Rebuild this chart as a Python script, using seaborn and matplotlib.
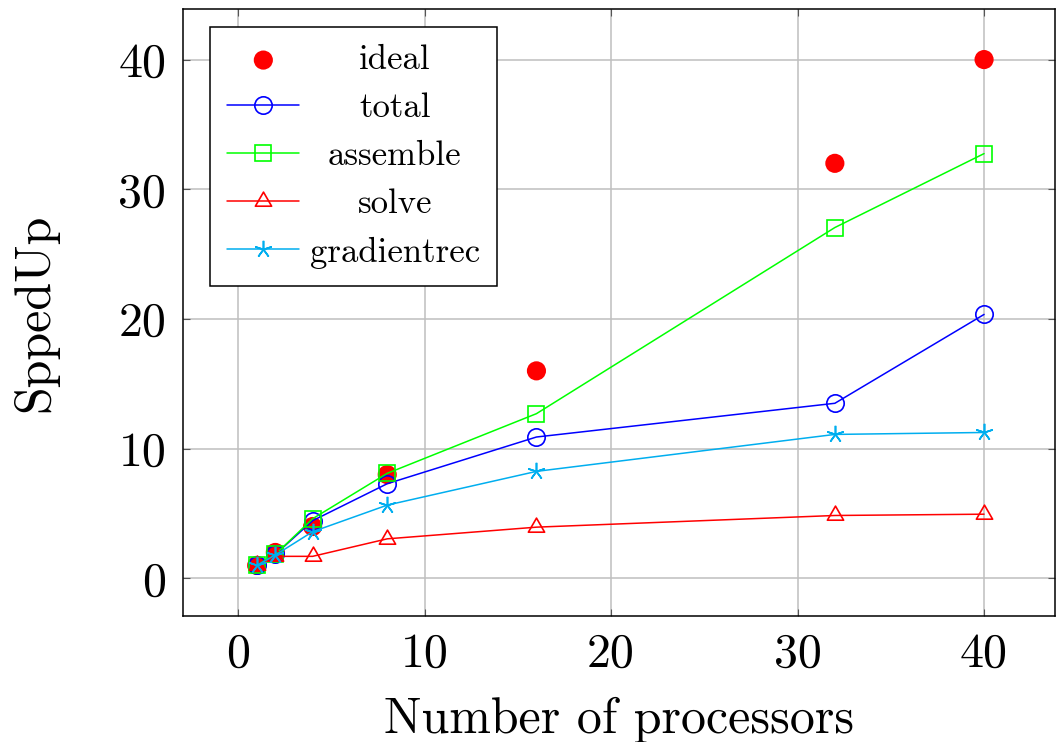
import matplotlib
matplotlib.use("Agg")
import matplotlib.pyplot as plt
import seaborn as sns
from matplotlib.path import Path

# Speed-up measurements per number of processors
processors = [1, 2, 4, 8, 16, 32, 40]
ideal = [1, 2, 4, 8, 16, 32, 40]
total = [1, 1.85, 4.45, 7.3, 10.9, 13.5, 20.35]
assemble = [1, 1.85, 4.6, 8.1, 12.7, 27.05, 32.75]
solve = [1, 1.7, 1.7, 3.05, 3.95, 4.85, 4.95]
gradientrec = [1, 1.8, 3.6, 5.65, 8.25, 11.1, 11.25]

x_ticks = [0, 10, 20, 30, 40]
y_ticks = [0, 10, 20, 30, 40]

sns.set_theme(style="whitegrid")
plt.rcParams["font.family"] = ["cmr10"]
plt.rcParams["mathtext.fontset"] = "cm"
plt.rcParams["axes.formatter.use_mathtext"] = True

fig = plt.figure(figsize=(10.56, 7.42), dpi=100)
ax = fig.add_axes([0.1733, 0.1698, 0.8257, 0.8181])

lw = 1.1
mew = 1.2
triangle = Path([(0, 1), (-0.866, -0.5), (0.866, -0.5), (0, 1)], closed=True)

sns.scatterplot(x=processors, y=ideal, color="#ff0000", s=190, edgecolor="none",
                linewidth=0, label="ideal", ax=ax, zorder=3)

series = [
    ("total", total, "#0000ff", "o", 12.5),
    ("assemble", assemble, "#00ff00", "s", 12.0),
    ("solve", solve, "#ff0000", triangle, 13.5),
    ("gradientrec", gradientrec, "#00aeef", (5, 2, 0), 12.5),
]
for name, vals, col, mk, ms in series:
    sns.lineplot(x=processors, y=vals, color=col, linewidth=lw, marker=mk,
                 markersize=ms, markerfacecolor="none", markeredgecolor=col,
                 markeredgewidth=mew, errorbar=None, label=name, ax=ax, zorder=3)

ax.set_xlim(-2.95, 43.8)
ax.set_ylim(-2.9, 43.9)
ax.set_xticks(x_ticks)
ax.set_yticks(y_ticks)
ax.set_xticklabels([str(t) for t in x_ticks])
ax.set_yticklabels([str(t) for t in y_ticks])

ax.grid(True, color="#bfbfbf", linewidth=1.1)
ax.set_axisbelow(True)
for sp in ax.spines.values():
    sp.set_color("black")
    sp.set_linewidth(1.1)
    sp.set_visible(True)

ax.tick_params(axis="both", which="major", direction="in", length=5, width=0.8,
               color="#555555", labelsize=34.5, pad=12,
               bottom=True, left=True, top=True, right=True,
               labelcolor="black")

ax.set_xlabel("Number of processors", fontsize=36, labelpad=14.5, color="black")
ax.set_ylabel("SppedUp", fontsize=36, labelpad=43, color="black")

leg = ax.legend(loc="upper left", bbox_to_anchor=(0.031, 0.970), borderaxespad=0,
                fontsize=25, frameon=True, fancybox=False, edgecolor="black",
                framealpha=1, handlelength=2.07, handletextpad=0.3,
                labelspacing=0.47, borderpad=0.5, numpoints=1, scatterpoints=1)
leg.get_frame().set_linewidth(1.1)
for t in leg.get_texts():
    t.set_color("black")

# centre the legend labels within their column
fig.canvas.draw()
renderer = fig.canvas.get_renderer()
texts = leg.get_texts()
widths = [t.get_window_extent(renderer).width for t in texts]
wmax = max(widths)
for t, w in zip(texts, widths):
    t.set_position(((wmax - w) / 2, 0))

fig.savefig("out.png", dpi=100)
